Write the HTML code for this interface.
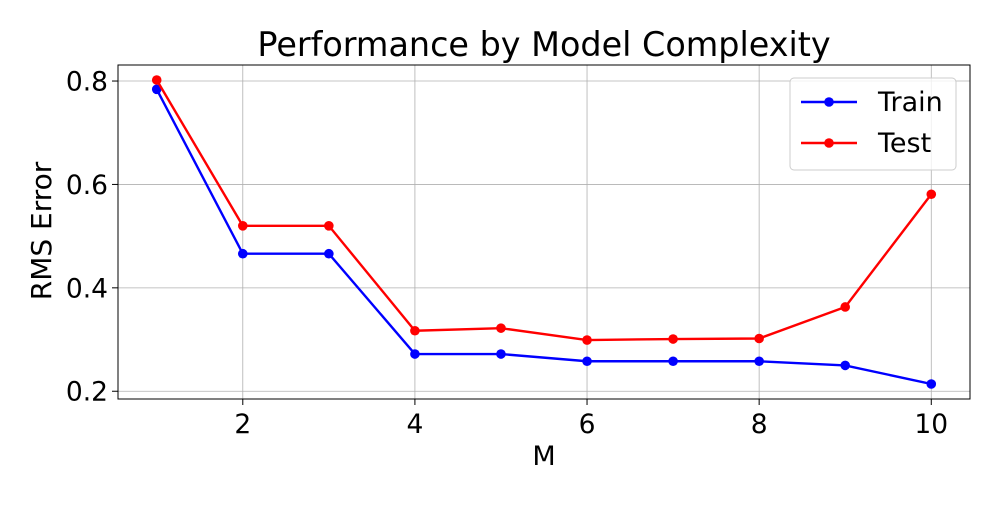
<!DOCTYPE html>
<html><head><meta charset="utf-8"><style>
body{margin:0;background:#fff;font-family:"Liberation Sans","DejaVu Sans",sans-serif}
svg text{font-family:"DejaVu Sans","Liberation Sans",sans-serif}
</style></head><body>
<svg id="c" width="1000" height="500" viewBox="0 0 1000 500"></svg>
<script>
const categories=[1,2,3,4,5,6,7,8,9,10];
const trainValues=[0.784,0.466,0.466,0.272,0.272,0.258,0.258,0.258,0.250,0.214];
const testValues=[0.802,0.520,0.520,0.317,0.322,0.299,0.301,0.302,0.363,0.581];
const xTicks=[2,4,6,8,10];
const yTicks=[0.2,0.4,0.6,0.8];
const L=118,R=970,T=65,B=399;
const xmin=0.55,xmax=10.45,ymin=0.185,ymax=0.831;
const sx=v=>L+(v-xmin)/(xmax-xmin)*(R-L);
const sy=v=>B-(v-ymin)/(ymax-ymin)*(B-T);
const svg=document.getElementById('c');const NS='http://www.w3.org/2000/svg';
function mk(t,a,p){const e=document.createElementNS(NS,t);for(const k in a)e.setAttribute(k,a[k]);(p||svg).appendChild(e);return e;}
xTicks.forEach(v=>{const x=sx(v);
const g=mk('line',{x1:x,x2:x,y1:T,y2:B,stroke:'#b0b0b0','stroke-width':0.8});


mk('line',{x1:x,x2:x,y1:B,y2:B+6,stroke:'#000'});
const t=mk('text',{x:x,y:B+34,'text-anchor':'middle','font-size':26.5});t.textContent=v;

});
yTicks.forEach(v=>{const y=sy(v);
const g=mk('line',{x1:L,x2:R,y1:y,y2:y,stroke:'#b0b0b0','stroke-width':0.8});


mk('line',{x1:L-6,x2:L,y1:y,y2:y,stroke:'#000'});
const t=mk('text',{x:L-10,y:y+9.5,'text-anchor':'end','font-size':26.5});t.textContent=v.toFixed(1);

});
function series(vals,color,name){
const p=mk('polyline',{points:vals.map((v,i)=>sx(categories[i])+','+sy(v)).join(' '),fill:'none',stroke:color,'stroke-width':2.4});


vals.forEach((v,i)=>{const c=mk('circle',{cx:sx(categories[i]),cy:sy(v),r:4.8,fill:color});

});}
series(trainValues,'#0000ff','train');
series(testValues,'#ff0000','test');
const fr=mk('rect',{x:L,y:T,width:R-L,height:B-T,fill:'none',stroke:'#000','stroke-width':1});


const ti=mk('text',{x:(L+R)/2+0,y:56,'text-anchor':'middle','font-size':33.4});ti.textContent='Performance by Model Complexity';


const xl=mk('text',{x:(L+R)/2,y:465,'text-anchor':'middle','font-size':27});xl.textContent='M';


const yl=mk('text',{x:0,y:0,'text-anchor':'middle','font-size':28,transform:'translate(51,231) rotate(-90)'});yl.textContent='RMS Error';


const lg=mk('g',{});


mk('rect',{x:790,y:78,width:166,height:92,rx:4,fill:'#fff',stroke:'#ccc','fill-opacity':0.8},lg);
[['Train','#0000ff',102],['Test','#ff0000',143]].forEach(([n,c,y])=>{
const e=mk('g',{},lg);


mk('line',{x1:801,x2:857,y1:y,y2:y,stroke:c,'stroke-width':2.4},e);
mk('circle',{cx:829,cy:y,r:4.8,fill:c},e);
const t=mk('text',{x:878,y:y+9,'font-size':27},e);t.textContent=n;});
</script></body></html>
